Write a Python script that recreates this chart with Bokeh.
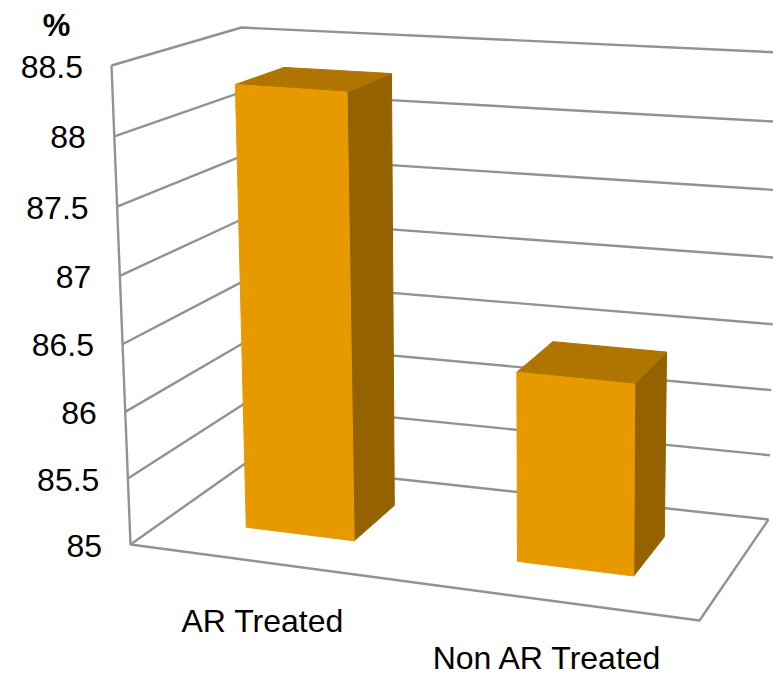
from bokeh.plotting import figure
from bokeh.models import Range1d
from bokeh.core.properties import value
from bokeh.embed import file_html
from bokeh.resources import INLINE

# ---- data
categories = ["AR Treated", "Non AR Treated"]
values = [88.31, 86.4]
tick_values = [85, 85.5, 86, 86.5, 87, 87.5, 88, 88.5]
tick_labels = ["85", "85.5", "86", "86.5", "87", "87.5", "88", "88.5"]
unit_label = "%"

# ---- 3D box of the chart as it appears on the page (page pixels)
FLOOR = {"fl": (130, 544), "fr": (699, 620), "bl": (246, 462), "br": (768, 519)}
ROOF = {"fl": (111, 65), "fr": (703, 107), "bl": (241, 27), "br": (778, 52)}
BAR_SPANS = [(0.14, 0.335), (0.63, 0.84)]
BAR_DEPTH = (0.33, 0.73)
FORESHORTEN = 0.043
CATEGORY_DROP = [58, 58]
CATEGORY_SHIFT = [-3, -1]
Z_MIN, Z_MAX = tick_values[0], tick_values[-1]


def project(u, d, v):
    t = (v - Z_MIN) / (Z_MAX - Z_MIN)
    t = t - FORESHORTEN * t * (1 - t)
    out = []
    for i in (0, 1):
        low = (FLOOR["fl"][i] * (1 - u) * (1 - d) + FLOOR["fr"][i] * u * (1 - d)
               + FLOOR["bl"][i] * (1 - u) * d + FLOOR["br"][i] * u * d)
        high = (ROOF["fl"][i] * (1 - u) * (1 - d) + ROOF["fr"][i] * u * (1 - d)
                + ROOF["bl"][i] * (1 - u) * d + ROOF["br"][i] * u * d)
        out.append(low * (1 - t) + high * t)
    return out


def poly(points):
    pts = [project(*p) for p in points]
    return [q[0] for q in pts], [q[1] for q in pts]


p = figure(width=773, height=676, output_backend="svg", toolbar_location=None,
           x_range=Range1d(0, 773), y_range=Range1d(676, 0), min_border=0)
p.axis.visible = False
p.grid.visible = False
p.outline_line_color = None
p.background_fill_color = "white"

GRID = "#929292"
FONT = value("Liberation Sans")

# walls and gridlines
xs, ys = [], []
for v in tick_values:
    x, y = poly([(0, 0, v), (0, 1, v), (1, 1, v)])
    xs.append(x)
    ys.append(y)
x, y = poly([(0, 0, Z_MAX), (0, 0, Z_MIN), (1, 0, Z_MIN), (1, 1, Z_MIN)])
xs.append(x)
ys.append(y)
p.multi_line(xs, ys, line_color=GRID, line_width=2.4)

# bars
FRONT, SIDE, TOP = "#E69A00", "#946300", "#B07400"
for (u0, u1), val in zip(BAR_SPANS, values):
    d0, d1 = BAR_DEPTH
    x, y = poly([(u1, d0, Z_MIN), (u1, d1, Z_MIN), (u1, d1, val), (u1, d0, val)])
    p.patch(x, y, fill_color=SIDE, line_color=SIDE, line_width=1)
    x, y = poly([(u0, d0, val), (u0, d1, val), (u1, d1, val), (u1, d0, val)])
    p.patch(x, y, fill_color=TOP, line_color=TOP, line_width=1)
    x, y = poly([(u0, d0, Z_MIN), (u1, d0, Z_MIN), (u1, d0, val), (u0, d0, val)])
    p.patch(x, y, fill_color=FRONT, line_color=FRONT, line_width=1)

# value labels
tx, ty = [], []
for v in tick_values:
    a, b = project(0, 0, v)
    tx.append(a - 28.5)
    ty.append(b + 1)
p.text(tx, ty, text=tick_labels, text_font=FONT, text_font_size="32px",
       text_color="black", text_align="right", text_baseline="middle")

# category labels
cx, cy = [], []
for (u0, u1), drop, shift in zip(BAR_SPANS, CATEGORY_DROP, CATEGORY_SHIFT):
    a, b = project((u0 + u1) / 2, 0, Z_MIN)
    cx.append(a + shift)
    cy.append(b + drop)
p.text(cx, cy, text=categories, text_font=FONT, text_font_size="32px",
       text_color="black", text_align="center", text_baseline="middle")

# unit label
a, b = project(0, 0, Z_MAX)
p.text([a - 55], [b - 40], text=[unit_label], text_font=FONT, text_font_size="31px",
       text_font_style="bold", text_color="black", text_align="center", text_baseline="middle")

open("out.html", "w").write(file_html(p, INLINE))
